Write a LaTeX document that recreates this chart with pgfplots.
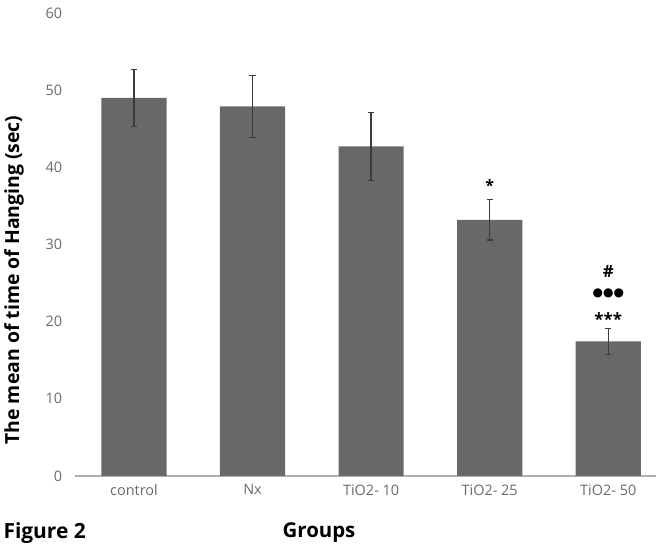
\documentclass[border=0pt]{standalone}
\usepackage{pgfplots}
\pgfplotsset{compat=1.18}
\usepackage{fontspec}
\setmainfont{Open Sans}
\newfontfamily\symfont{DejaVu Sans}
\definecolor{barc}{HTML}{686868}
\definecolor{errc}{HTML}{3C3C3C}
\definecolor{tickc}{HTML}{6A6A6A}
\definecolor{axc}{HTML}{B0B0B0}
\begin{document}
\begin{tikzpicture}[x=1bp,y=1bp]
\useasboundingbox (0,0) rectangle (668,549);
\begin{axis}[
  at={(74.7bp,73bp)}, anchor=south west,
  scale only axis, width=581bp, height=463bp,
  xmin=-0.5, xmax=4.4, ymin=0, ymax=60,
  ytick={0,10,...,60},
  xtick={0,1,2,3,4},
  xticklabels={control,Nx,TiO2- 10,TiO2- 25,TiO2- 50},
  axis x line*=bottom,
  axis y line*=left,
  x axis line style={axc, line width=2.5bp, -},
  y axis line style={draw=none, -},
  major tick length=0pt,
  /pgf/number format/assume math mode=true,
  xticklabel style={yshift=-5bp, font=\fontsize{14.5}{15}\selectfont, text=tickc},
  yticklabel style={xshift=-9bp, font=\fontsize{14.5}{15}\selectfont, text=tickc},
  clip=false,
]
\addplot[ybar, bar width=0.55, fill=barc, draw=none, bar shift=0pt,
  error bars/.cd, y dir=both, y explicit,
  error bar style={errc, line width=1.3bp},
  error mark options={rotate=90, mark size=3.2bp, errc, line width=1.3bp}]
  coordinates {
  (0,49.0) +- (0,3.7)
  (1,47.9) +- (0,4.0)
  (2,42.7) +- (0,4.4)
  (3,33.2) +- (0,2.6)
  (4,17.45) +- (0,1.7)
  };
\node[font=\fontsize{16}{18}\selectfont\bfseries] at (axis cs:3,37.6) {*};
\node[font=\fontsize{17}{19}\selectfont\bfseries] at (axis cs:4,26.5) {\#};
\node[font=\symfont\fontsize{12}{14}\selectfont, inner sep=0pt] at (axis cs:4,23.7) {●●●};
\node[font=\fontsize{17}{19}\selectfont\bfseries, inner sep=0pt] at (axis cs:4,20.4) {***};
\end{axis}
\node[rotate=90, font=\fontsize{19.5}{21}\selectfont\bfseries] at (14,269) {The mean of time of Hanging (sec)};
\node[font=\fontsize{20.5}{22}\selectfont\bfseries] at (319,16) {Groups};
\node[anchor=west, font=\fontsize{21}{23}\selectfont\bfseries] at (0,16) {Figure 2};
\end{tikzpicture}
\end{document}
